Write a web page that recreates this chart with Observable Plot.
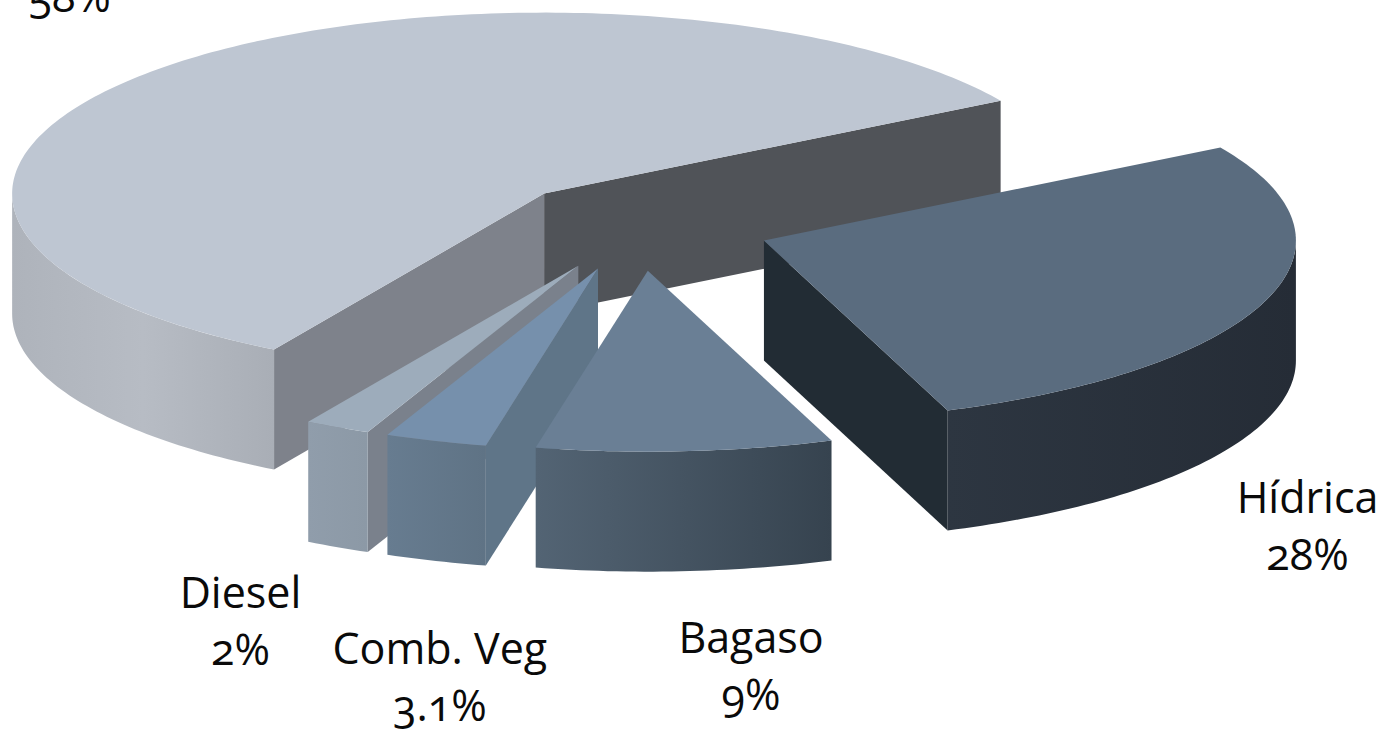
<!DOCTYPE html>
<html>
<head>
<meta charset="utf-8">
<script src="https://cdn.jsdelivr.net/npm/d3@7"></script>
<script src="https://cdn.jsdelivr.net/npm/@observablehq/plot@0.6"></script>
<style>
  html, body { margin: 0; padding: 0; background: #fff; overflow: hidden; }
  svg { display: block; }
</style>
</head>
<body>
<div id="chart"></div>
<script>
// Share of each generation source, in percent, clockwise from the back right.
const sources = ["Hídrica", "Bagaso", "Comb. Veg", "Diesel", ""];
const shares = [28, 9, 3.1, 2, 58];

// Colours of each wedge's faces.
const topColours = ["#5a6c7f", "#6a7f95", "#7690ac", "#9dacbb", "#bec6d2"];
const leadingCutColours = ["#222c34", "#4a5b6b", "#5f7588", "#7a818c", "#7e828b"];
const trailingCutColours = ["#222c34", "#4a5b6b", "#5f7588", "#7a818c", "#505358"];
const rimStops = [
  ["#2d3641", "#252c36"],
  ["#536474", "#36434f"],
  ["#677c90", "#5f7385"],
  ["#909dab", "#8c99a6"],
  ["#aeb3bb", "#b7bcc4", "#a9aeb6"]
];

// Text placement relative to the middle of each wedge's rim, in pixels.
const labelDx = [42, 66, 4, -97, -97];
const labelDy = [269, 259, 280, 238, -54];

// Pie geometry.
const width = 1385, height = 737;
const centreX = 638, centreY = 225;
const radiusX = 532, radiusY = 181;
const thickness = 120 / radiusY;   // wall height, in pie units
const explode = 0.25;              // every wedge is pulled out by a quarter radius
const startAngle = 30.9;           // degrees; angles run clockwise from here
const total = d3.sum(shares);
const rad = Math.PI / 180;

// Turn the shares into wedges with an apex and a pair of bounding angles.
let cursor = startAngle;
const wedges = shares.map((share, i) => {
  const a1 = cursor, a0 = cursor - share / total * 360;   // a0 < a1
  cursor = a0;
  const mid = (a0 + a1) / 2;
  return {i, a0, a1, mid,
    ax: explode * Math.cos(mid * rad),
    ay: explode * Math.sin(mid * rad)};
});

const arcPoints = (w, from, to, drop = 0) => {
  const n = Math.max(2, Math.ceil(Math.abs(to - from)));
  return d3.range(n + 1).map(k => {
    const t = (from + (to - from) * k / n) * rad;
    return {x: w.ax + Math.cos(t), y: w.ay + Math.sin(t) - drop};
  });
};

const polygon = (points, fill) => Plot.line(points, {x: "x", y: "y", fill, stroke: "none", curve: "linear"});

// The parts of a wedge's wall that face the viewer (sin < 0 on the ellipse).
function rimFaces(w) {
  const faces = [];
  for (const k of [-1, 0, 1]) {
    const lo = Math.max(w.a0, -180 + 360 * k), hi = Math.min(w.a1, 360 * k);
    if (hi > lo) {
      faces.push([...arcPoints(w, lo, hi), ...arcPoints(w, hi, lo, thickness)]);
    }
  }
  return faces.map(p => polygon(p, `url(#rim${w.i})`));
}

// A radial cut is visible when its outward normal points towards the viewer.
function cutFaces(w) {
  const faces = [];
  const cut = (angle, normal, fill) => {
    if (Math.sin(normal * rad) < 0) {
      const c = Math.cos(angle * rad), s = Math.sin(angle * rad);
      faces.push(polygon([
        {x: w.ax, y: w.ay},
        {x: w.ax + c, y: w.ay + s},
        {x: w.ax + c, y: w.ay + s - thickness},
        {x: w.ax, y: w.ay - thickness}
      ], fill));
    }
  };
  cut(w.a1, w.a1 + 90, leadingCutColours[w.i]);
  cut(w.a0, w.a0 - 90, trailingCutColours[w.i]);
  return faces;
}

const topFace = w => polygon([{x: w.ax, y: w.ay}, ...arcPoints(w, w.a0, w.a1)], topColours[w.i]);

// Horizontal shading for the curved walls.
const gradients = () => {
  const defs = d3.create("svg:defs");
  rimStops.forEach((stops, i) => {
    const g = defs.append("linearGradient").attr("id", `rim${i}`);
    stops.forEach((colour, k) => g.append("stop")
      .attr("offset", k / (stops.length - 1))
      .attr("stop-color", colour));
  });
  return defs.node();
};

// Back to front: large wedge, then the small ones left to right, then Hídrica.
const paintOrder = [4, 3, 2, 1, 0];

const labels = wedges.map(w => Plot.text([w], {
  x: d => d.ax + Math.cos(d.mid * rad),
  y: d => d.ay + Math.sin(d.mid * rad),
  text: d => (sources[d.i] ? sources[d.i] + "\n" : "") + shares[d.i] + "%",
  dx: labelDx[w.i],
  dy: labelDy[w.i],
  textAnchor: "middle",
  lineAnchor: "bottom",
  lineHeight: 1.33,
  fontSize: 43,
  fontFamily: "'Open Sans', sans-serif",
  fontVariant: "oldstyle-nums",
  fill: "#0a0a0a"
}));

const chart = Plot.plot({
  width, height,
  margin: 0,
  x: {axis: null, domain: [-centreX / radiusX, (width - centreX) / radiusX], range: [0, width]},
  y: {axis: null, domain: [centreY / radiusY, (centreY - height) / radiusY], range: [0, height]},
  marks: [
    gradients,
    ...paintOrder.flatMap(i => [...cutFaces(wedges[i]), ...rimFaces(wedges[i]), topFace(wedges[i])]),
    ...labels
  ]
});
document.getElementById("chart").append(chart);
</script>
</body>
</html>
